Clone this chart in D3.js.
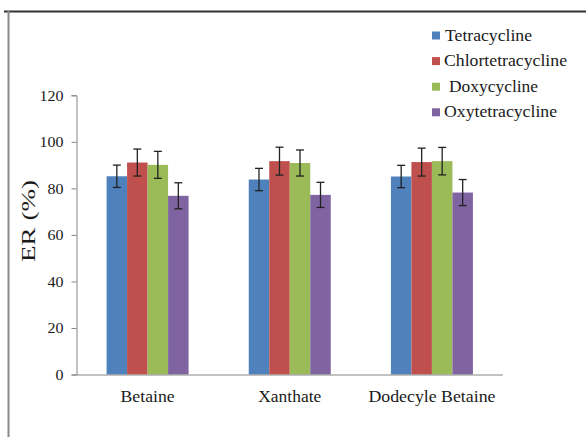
<!DOCTYPE html>
<html>
<head>
<meta charset="utf-8">
<script src="https://cdn.jsdelivr.net/npm/d3@7"></script>
<style>
  html, body { margin: 0; padding: 0; background: #fff; }
  svg { display: block; }
</style>
</head>
<body>
<svg id="chart" width="586" height="437"></svg>
<script>
const categories = ["Betaine", "Xanthate", "Dodecyle Betaine"];
const seriesNames = ["Tetracycline", "Chlortetracycline", "Doxycycline", "Oxytetracycline"];
const legendLabels = ["Tetracycline", "Chlortetracycline", "Doxycycline", "Oxytetracycline"];
const tetracycline = [85.2, 83.8, 85.1];
const chlortetracycline = [91.1, 91.7, 91.3];
const doxycycline = [90.1, 90.9, 91.7];
const oxytetracycline = [76.8, 77.2, 78.2];
const errTetracycline = [4.8, 4.8, 4.8];
const errChlortetracycline = [5.8, 6.0, 6.0];
const errDoxycycline = [5.8, 5.6, 5.9];
const errOxytetracycline = [5.6, 5.4, 5.6];
const yTicks = [0, 20, 40, 60, 80, 100, 120];
const colors = ["#4F81BD", "#C0504D", "#9BBB59", "#8064A2"];

const values = [tetracycline, chlortetracycline, doxycycline, oxytetracycline];
const errors = [errTetracycline, errChlortetracycline, errDoxycycline, errOxytetracycline];

const svg = d3.select("#chart");
const font = "'Liberation Serif', 'Times New Roman', serif";
const ink = "#1a1a1a";

// frame lines
svg.append("line").attr("x1", 4).attr("x2", 586).attr("y1", 11.5).attr("y2", 11.5)
  .attr("stroke", "#333").attr("stroke-width", 2);
svg.append("line").attr("x1", 8.5).attr("x2", 8.5).attr("y1", 11).attr("y2", 437)
  .attr("stroke", "#888").attr("stroke-width", 2);

const pLeft = 76.5, pRight = 503, pTop = 95.3, pBottom = 374.5;

const x = d3.scaleBand().domain(categories).range([pLeft, pRight]).paddingInner(0).paddingOuter(0);
const bandW = x.bandwidth();
const groupW = 82;
const xs = d3.scaleBand().domain(seriesNames).range([0, groupW]).padding(0);
const y = d3.scaleLinear().domain([0, 120]).range([pBottom, pTop]);

// bars
seriesNames.forEach((s, si) => {
  svg.append("g").selectAll("rect").data(categories).enter().append("rect")
    .attr("x", c => x(c) + (bandW - groupW) / 2 + xs(s))
    .attr("width", xs.bandwidth())
    .attr("y", (c, i) => y(values[si][i]))
    .attr("height", (c, i) => y(0) - y(values[si][i]))
    .attr("fill", colors[si]);
});

// error bars
seriesNames.forEach((s, si) => {
  const g = svg.append("g").attr("stroke", "#222").attr("stroke-width", 1.3);
  categories.forEach((c, i) => {
    const cx = x(c) + (bandW - groupW) / 2 + xs(s) + xs.bandwidth() / 2;
    const hi = y(values[si][i] + errors[si][i]);
    const lo = y(values[si][i] - errors[si][i]);
    g.append("line").attr("x1", cx).attr("x2", cx).attr("y1", hi).attr("y2", lo);
    g.append("line").attr("x1", cx - 4).attr("x2", cx + 4).attr("y1", hi).attr("y2", hi);
    g.append("line").attr("x1", cx - 4).attr("x2", cx + 4).attr("y1", lo).attr("y2", lo);
  });
});

// y axis
const yAxis = d3.axisLeft(y).tickValues(yTicks).tickSize(5).tickPadding(8);
const yg = svg.append("g").attr("transform", `translate(${pLeft},0)`).call(yAxis);
yg.select(".domain").attr("stroke", "#868686");
yg.selectAll(".tick line").attr("stroke", "#868686");
yg.selectAll(".tick text").attr("font-family", font).attr("font-size", 15).attr("fill", ink)
  .attr("textLength", d => String(d).length * 8).attr("lengthAdjust", "spacingAndGlyphs");

// x axis
const catWidths = [54, 63, 127];
const xAxis = d3.axisBottom(x).tickSize(0).tickPadding(16);
const xg = svg.append("g").attr("transform", `translate(0,${pBottom})`).call(xAxis);
xg.select(".domain").attr("stroke", "#868686").attr("d", `M${pLeft},0.5H${pRight}`);
xg.selectAll(".tick text").attr("font-family", font).attr("font-size", 16).attr("fill", ink)
  .attr("textLength", (d, i) => catWidths[i]).attr("lengthAdjust", "spacingAndGlyphs");

// y label
svg.append("text").attr("transform", `translate(35,221) rotate(-90)`)
  .attr("text-anchor", "middle").attr("font-family", font).attr("font-size", 18).attr("fill", ink)
  .attr("textLength", 82).attr("lengthAdjust", "spacingAndGlyphs")
  .text("ER (%)");

// legend
const legWidths = [87, 123, 89, 113];
const legX = [445, 444, 449, 444];
const lg = svg.append("g");
legendLabels.forEach((l, i) => {
  const cy = 35.5 + i * 25.6;
  lg.append("rect").attr("x", 432).attr("y", cy - 4).attr("width", 8).attr("height", 8).attr("fill", colors[i]);
  lg.append("text").attr("x", legX[i]).attr("y", cy + 5).attr("font-family", font).attr("font-size", 16)
    .attr("fill", ink).attr("textLength", legWidths[i]).attr("lengthAdjust", "spacingAndGlyphs").text(l);
});
</script>
</body>
</html>
